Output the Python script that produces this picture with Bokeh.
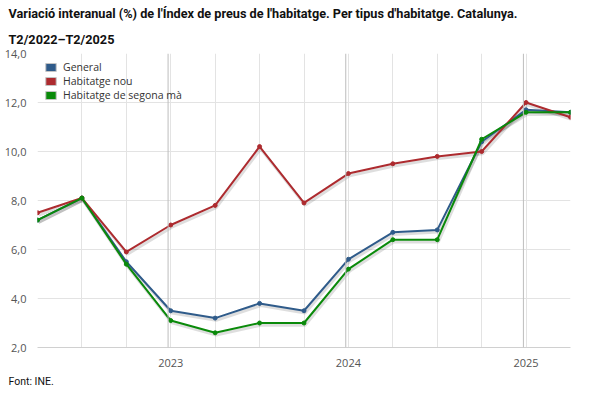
from bokeh.plotting import figure
from bokeh.models import FixedTicker, Legend, LegendItem, Span, Range1d, Title
from bokeh.embed import file_html
from bokeh.resources import INLINE

quarters = ["T2/2022", "T3/2022", "T4/2022", "T1/2023", "T2/2023", "T3/2023", "T4/2023",
            "T1/2024", "T2/2024", "T3/2024", "T4/2024", "T1/2025", "T2/2025"]
general = [7.2, 8.1, 5.5, 3.5, 3.2, 3.8, 3.5, 5.6, 6.7, 6.8, 10.4, 11.7, 11.6]
habitatge_nou = [7.5, 8.1, 5.9, 7.0, 7.8, 10.2, 7.9, 9.1, 9.5, 9.8, 10.0, 12.0, 11.4]
segona_ma = [7.2, 8.1, 5.4, 3.1, 2.6, 3.0, 3.0, 5.2, 6.4, 6.4, 10.5, 11.6, 11.6]
year_labels = ["2023", "2024", "2025"]
year_first_quarter = ["T1/2023", "T1/2024", "T1/2025"]
y_ticks = [2, 4, 6, 8, 10, 12, 14]
y_tick_labels = ["2,0", "4,0", "6,0", "8,0", "10,0", "12,0", "14,0"]
series_names = ["General", "Habitatge nou", "Habitatge de segona mà"]
series_colors = ["#2f5b8a", "#ad2b2f", "#0a8a0a"]

title_lines = ["Variació interanual (%) de l'Índex de preus de l'habitatge. Per tipus d'habitatge. Catalunya.",
               "T2/2022–T2/2025"]
source_text = "Font: INE."

xs = list(range(len(quarters)))
year_pos = [quarters.index(q) for q in year_first_quarter]

FL, FT, FR, FB = 37, 53, 570, 347  # frame edges (canvas px)

p = figure(width=600, height=399, output_backend="svg", toolbar_location=None,
           x_range=Range1d(0, len(quarters) - 1), y_range=Range1d(y_ticks[0], y_ticks[-1]),
           min_border_left=FL, min_border_right=600 - FR, min_border_top=FT,
           min_border_bottom=399 - FB)
p.outline_line_color = None
p.background_fill_color = "white"
p.border_fill_color = "white"

# title: p.title is the outermost line, the added Title sits nearest the plot
title_style = dict(align="left", offset=8 - FL, text_font="Roboto", text_font_style="bold",
                   text_font_size="12.7px", text_color="#111111")
p.title = Title(text=title_lines[0], standoff=4, **title_style)
p.add_layout(Title(text=title_lines[1], standoff=14, **title_style), "above")
p.add_layout(Title(text=source_text, align="left", offset=8 - FL, standoff=7,
                   text_font="Roboto", text_font_style="normal",
                   text_font_size="10.5px", text_color="#111111"), "below")

# grids
p.xgrid.ticker = FixedTicker(ticks=xs)
p.xgrid.grid_line_color = "#e3e3e3"
p.ygrid.ticker = FixedTicker(ticks=y_ticks)
p.ygrid.grid_line_color = "#e3e3e3"

for yp in year_pos:
    p.add_layout(Span(location=yp - 0.06, dimension="height", line_color="#bdbdbd", line_width=1))

# axes
p.yaxis.ticker = FixedTicker(ticks=y_ticks)
p.yaxis.major_label_overrides = {t: l for t, l in zip(y_ticks, y_tick_labels)}
p.yaxis.axis_line_color = None
p.yaxis.major_tick_line_color = None
p.yaxis.minor_tick_line_color = None
p.yaxis.major_label_standoff = 5
p.yaxis.major_label_text_font = "Open Sans"
p.yaxis.major_label_text_font_size = "11px"
p.yaxis.major_label_text_color = "#555555"

p.xaxis.ticker = FixedTicker(ticks=year_pos)
p.xaxis.major_label_overrides = {t: l for t, l in zip(year_pos, year_labels)}
p.xaxis.axis_line_color = "#d0d0d0"
p.xaxis.major_tick_line_color = None
p.xaxis.minor_tick_line_color = None
p.xaxis.major_label_standoff = 5
p.xaxis.major_label_text_font = "Open Sans"
p.xaxis.major_label_text_font_size = "11px"
p.xaxis.major_label_text_color = "#555555"

all_series = [general, habitatge_nou, segona_ma]

# legend swatches (zero-size rects at the first point, hidden under the markers)
swatches = []
for ys, col in zip(all_series, series_colors):
    swatches.append(p.rect(x=[xs[0]], y=[ys[0]], width=0, height=0, fill_color=col,
                           line_color="#c4c4c4", line_width=1))

# shadows then lines
for ys in all_series:
    p.line([x + 0.025 for x in xs], [y - 0.09 for y in ys], line_color="black",
           line_alpha=0.13, line_width=3)

for ys, col in zip(all_series, series_colors):
    p.line(xs, ys, line_color=col, line_width=2)
    p.scatter(xs, ys, marker="circle", size=4, fill_color=col, line_color=col)

items = [LegendItem(label=n, renderers=[r]) for n, r in zip(series_names, swatches)]
legend = Legend(items=items, location="top_left")
legend.margin = 7
legend.padding = 0
legend.spacing = 0
legend.glyph_width = 13
legend.glyph_height = 10
legend.label_height = 12
legend.label_standoff = 6
legend.label_text_font = "Open Sans"
legend.label_text_font_size = "10.5px"
legend.label_text_color = "#333333"
legend.border_line_color = None
legend.background_fill_alpha = 0
p.add_layout(legend)

open("out.html", "w").write(file_html(p, INLINE))
